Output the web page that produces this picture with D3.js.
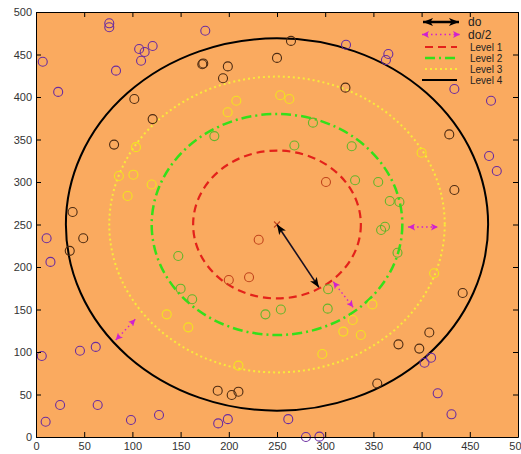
<!DOCTYPE html>
<html>
<head>
<meta charset="utf-8">
<script src="https://cdn.jsdelivr.net/npm/d3@7"></script>
<style>
  body { margin: 0; background: #fff; }
  svg { display: block; font-family: "Liberation Sans", Arial, sans-serif; }
</style>
</head>
<body>
<svg id="chart" width="521" height="454"></svg>
<script>
// ---- data ----
const xTicks = [0, 50, 100, 150, 200, 250, 300, 350, 400, 450, 500];
const yTicks = [0, 50, 100, 150, 200, 250, 300, 350, 400, 450, 500];

const center = [250, 250];
const levelNames = ["Level 1", "Level 2", "Level 3", "Level 4"];
const levelRadii = [87, 130, 174, 219];

// nodes grouped by the ring they fall in
const innerNodes = [[231, 232], [221, 188], [200, 184.7], [300.8, 300]];
const ring2Nodes = [[185, 354], [287.3, 369.8], [268, 343], [327.5, 342], [331, 302], [355, 300],
  [367, 277.6], [377, 276.5], [358, 243.5], [362, 247.4], [375, 216.8], [147.6, 213],
  [150, 174.5], [162, 162], [238, 144.3], [254, 150], [303, 173.8], [302.6, 151]];
const ring3Nodes = [[103.7, 341], [86, 307], [101, 308.6], [120, 297], [95, 283.5], [207.8, 395.6],
  [198.8, 382], [253.4, 402], [262.8, 397.6], [400, 334.5], [413, 192.6], [349, 156],
  [328.5, 137.6], [337, 120], [318.8, 124], [297, 97.6], [210, 84], [135.6, 144.3], [158, 129]];
const ring4Nodes = [[102, 397.6], [121, 374], [81, 344], [38, 264.7], [264.5, 466], [172.5, 438.5],
  [173.5, 439.5], [199, 436], [194, 422], [250, 446], [321, 411], [428.7, 356], [434, 290.6],
  [442.6, 169.4], [408, 123], [376, 109], [397.6, 104], [354, 63], [188.5, 54.5], [203, 49.4],
  [210, 53.3], [49, 233.8], [35, 219]];
const outerNodes = [[76, 486.7], [76, 482], [7, 441.5], [107, 456.5], [112.7, 453], [121, 460],
  [109, 442.7], [83, 431], [23, 406], [175.6, 478], [321.6, 461.5], [365.5, 450.6], [363, 443.5],
  [434, 409.4], [472, 395.6], [470, 330.6], [478, 313], [403, 87.4], [409.8, 93.3], [416.7, 51.4],
  [431, 26.7], [11, 233.8], [15, 206], [6, 95.3], [45.6, 101.5], [62, 106], [25, 37.6], [64, 37.6],
  [10, 18], [98.5, 20], [127.6, 25.9], [189, 16], [199, 21], [261.7, 21], [280, 0], [294, 0.4]];

// do arrow (center to Level 1) and the do/2 arrows between levels
const doArrow = [[250, 250], [293.5, 176]];
const halfArrows = [
  [[308.4, 182.7], [329, 152.6]],
  [[386, 247], [417, 247]],
  [[82.7, 114], [103, 138.5]]
];

// ---- styles ----
const bg = "#faaa5f";
const nodeGroups = [
  { pts: innerNodes, color: "#c0441c" },
  { pts: ring2Nodes, color: "#62b52a" },
  { pts: ring3Nodes, color: "#f2e31e" },
  { pts: ring4Nodes, color: "#4d2b12" },
  { pts: outerNodes, color: "#6a2ca0" }
];
const levelStyles = [
  { color: "#e3221a", dash: "8,5", width: 2.2 },
  { color: "#33e01a", dash: "10,4,2,4", width: 2.5 },
  { color: "#f8ea3a", dash: "2,3", width: 2 },
  { color: "#000000", dash: null, width: 2 }
];

// ---- layout ----
const svg = d3.select("#chart");
const x = d3.scaleLinear().domain([0, 500]).range([36, 518]);
const y = d3.scaleLinear().domain([0, 500]).range([437, 12]);

// plot background
svg.append("rect")
  .attr("x", x(0)).attr("y", y(500))
  .attr("width", x(500) - x(0)).attr("height", y(0) - y(500))
  .attr("fill", bg);

// arrowhead markers
const defs = svg.append("defs");
function head(id, color, w, h) {
  defs.append("marker")
    .attr("id", id)
    .attr("markerUnits", "userSpaceOnUse")
    .attr("viewBox", `0 0 ${w} ${h}`)
    .attr("markerWidth", w).attr("markerHeight", h)
    .attr("refX", w).attr("refY", h / 2)
    .attr("orient", "auto-start-reverse")
    .append("path")
    .attr("d", `M0,0 L${w},${h / 2} L0,${h} L${w * 0.25},${h / 2} Z`)
    .attr("fill", color);
}
head("hBlack", "#000", 10, 8);
head("hMag", "#d020d0", 7, 7);

// level circles (ellipses in pixel space because x/y scales differ)
const g = svg.append("g");
levelRadii.forEach((r, i) => {
  const s = levelStyles[i];
  g.append("ellipse")
    .attr("cx", x(center[0])).attr("cy", y(center[1]))
    .attr("rx", x(center[0] + r) - x(center[0]))
    .attr("ry", y(center[1]) - y(center[1] + r))
    .attr("fill", "none")
    .attr("stroke", s.color)
    .attr("stroke-width", s.width)
    .attr("stroke-dasharray", s.dash);
});

// nodes
nodeGroups.forEach(grp => {
  g.selectAll(null).data(grp.pts).enter().append("circle")
    .attr("cx", d => x(d[0])).attr("cy", d => y(d[1]))
    .attr("r", 4.5)
    .attr("fill", "none")
    .attr("stroke", grp.color)
    .attr("stroke-width", 1.1);
});

// center marker
const cx0 = x(center[0]), cy0 = y(center[1]);
g.append("path")
  .attr("d", `M${cx0 - 3},${cy0 - 3}L${cx0 + 3},${cy0 + 3}M${cx0 - 3},${cy0 + 3}L${cx0 + 3},${cy0 - 3}`)
  .attr("stroke", "#c0441c").attr("stroke-width", 1.1);

// do arrow
g.append("line")
  .attr("x1", x(doArrow[0][0])).attr("y1", y(doArrow[0][1]))
  .attr("x2", x(doArrow[1][0])).attr("y2", y(doArrow[1][1]))
  .attr("stroke", "#1a1020").attr("stroke-width", 1.6)
  .attr("marker-start", "url(#hBlack)").attr("marker-end", "url(#hBlack)");

// do/2 arrows
g.selectAll(null).data(halfArrows).enter().append("line")
  .attr("x1", d => x(d[0][0])).attr("y1", d => y(d[0][1]))
  .attr("x2", d => x(d[1][0])).attr("y2", d => y(d[1][1]))
  .attr("stroke", "#d020d0").attr("stroke-width", 1.4)
  .attr("stroke-dasharray", "1.5,3")
  .attr("marker-start", "url(#hMag)").attr("marker-end", "url(#hMag)");

// axes (ticks pointing inward, labels on bottom/left only)
function styleAxis(sel) {
  sel.selectAll("path").attr("stroke", "#000").attr("stroke-width", 1);
  sel.selectAll("line").attr("stroke", "#000");
  sel.selectAll("text").attr("fill", "#333").attr("font-size", 11)
    .attr("font-family", "'Liberation Sans', Arial, sans-serif");
}
svg.append("g").attr("transform", `translate(0,${y(0)})`)
  .call(d3.axisBottom(x).tickValues(xTicks).tickSizeInner(-5).tickSizeOuter(0).tickPadding(5))
  .call(styleAxis);
svg.append("g").attr("transform", `translate(0,${y(500)})`)
  .call(d3.axisTop(x).tickValues(xTicks).tickSizeInner(-5).tickSizeOuter(0).tickFormat(""))
  .call(styleAxis);
svg.append("g").attr("transform", `translate(${x(0)},0)`)
  .call(d3.axisLeft(y).tickValues(yTicks).tickSizeInner(-5).tickSizeOuter(0).tickPadding(4))
  .call(styleAxis);
svg.append("g").attr("transform", `translate(${x(500)},0)`)
  .call(d3.axisRight(y).tickValues(yTicks).tickSizeInner(-5).tickSizeOuter(0).tickFormat(""))
  .call(styleAxis);

// legend
const lg = svg.append("g");
const lx1 = 422, lx2 = 460, tx = 468;
lg.append("line").attr("x1", lx1 + 1).attr("x2", lx2 - 1).attr("y1", 22).attr("y2", 22)
  .attr("stroke", "#000").attr("stroke-width", 2.5)
  .attr("marker-start", "url(#hBlack)").attr("marker-end", "url(#hBlack)");
lg.append("text").attr("x", tx).attr("y", 25.5).text("do")
  .attr("font-size", 12).attr("fill", "#222");
lg.append("line").attr("x1", lx1).attr("x2", lx2).attr("y1", 34.5).attr("y2", 34.5)
  .attr("stroke", "#d020d0").attr("stroke-width", 1.5).attr("stroke-dasharray", "1.5,3")
  .attr("marker-start", "url(#hMag)").attr("marker-end", "url(#hMag)");
lg.append("text").attr("x", tx).attr("y", 39).text("do/2")
  .attr("font-size", 12).attr("fill", "#222");
const rowY = [47, 58, 69, 80];
levelNames.forEach((name, i) => {
  const s = levelStyles[i];
  lg.append("line").attr("x1", i === 3 ? lx1 : lx1 + 3).attr("x2", lx2 - 3)
    .attr("y1", rowY[i]).attr("y2", rowY[i])
    .attr("stroke", s.color).attr("stroke-width", s.width)
    .attr("stroke-dasharray", s.dash);
  lg.append("text").attr("x", tx + 2).attr("y", rowY[i] + 3.5).text(name)
    .attr("font-size", 10).attr("fill", "#222");
});
</script>
</body>
</html>
